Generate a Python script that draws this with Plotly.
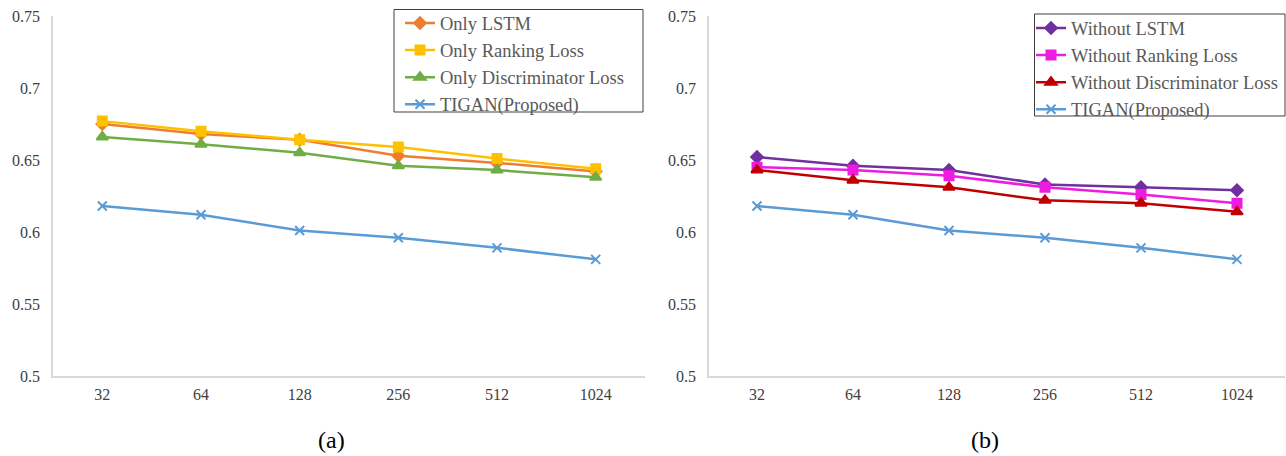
import plotly.graph_objects as go

categories = ["32", "64", "128", "256", "512", "1024"]

only_lstm = [0.675, 0.668, 0.664, 0.653, 0.648, 0.642]
only_ranking = [0.677, 0.670, 0.664, 0.659, 0.651, 0.644]
only_disc = [0.666, 0.661, 0.655, 0.646, 0.643, 0.638]
tigan = [0.618, 0.612, 0.601, 0.596, 0.589, 0.581]

without_lstm = [0.652, 0.646, 0.643, 0.633, 0.631, 0.629]
without_ranking = [0.645, 0.643, 0.639, 0.631, 0.626, 0.620]
without_disc = [0.643, 0.636, 0.631, 0.622, 0.620, 0.614]

y_ticks = [0.5, 0.55, 0.6, 0.65, 0.7, 0.75]
y_labels = ["0.5", "0.55", "0.6", "0.65", "0.7", "0.75"]

FONT = "Liberation Serif, Times New Roman, serif"
TXT = "#404040"

fig = go.Figure()

left = [
    ("Only LSTM", only_lstm, "#ED7D31", "diamond", 9),
    ("Only Ranking Loss", only_ranking, "#FFC000", "square", 9),
    ("Only Discriminator Loss", only_disc, "#70AD47", "triangle-up", 10),
    ("TIGAN(Proposed)", tigan, "#5B9BD5", "x-thin", 9),
]
right = [
    ("Without LSTM", without_lstm, "#7030A0", "diamond", 9),
    ("Without Ranking Loss", without_ranking, "#EE1BE0", "square", 9),
    ("Without Discriminator Loss", without_disc, "#C00000", "triangle-up", 10),
    ("TIGAN(Proposed)", tigan, "#5B9BD5", "x-thin", 9),
]

for name, vals, col, sym, sz in left:
    fig.add_trace(go.Scatter(
        x=categories, y=vals, name=name, mode="lines+markers",
        line=dict(color=col, width=2.5),
        marker=dict(symbol=sym, size=sz, color=col, line=dict(color=col, width=2)),
        xaxis="x", yaxis="y", legend="legend"))

for name, vals, col, sym, sz in right:
    fig.add_trace(go.Scatter(
        x=categories, y=vals, name=name, mode="lines+markers",
        line=dict(color=col, width=2.5),
        marker=dict(symbol=sym, size=sz, color=col, line=dict(color=col, width=2)),
        xaxis="x2", yaxis="y2", legend="legend2"))

W, H = 1286, 456
T, B = 16, 80
PH = H - T - B


def px_x(p):
    return p / W


def px_y(p):
    return (H - B - p) / PH


xa = dict(type="category", range=[-0.5, 5.5], showline=True, linecolor="#d9d9d9",
          linewidth=1.5, showgrid=False, zeroline=False, ticks="",
          tickfont=dict(family=FONT, size=16, color=TXT), ticklabelstandoff=3)
ya = dict(range=[0.5, 0.75], tickvals=y_ticks, ticktext=y_labels, showline=True,
          linecolor="#d9d9d9", linewidth=1.5, showgrid=False, zeroline=False, ticks="",
          tickfont=dict(family=FONT, size=16, color=TXT), ticklabelstandoff=8)

leg = dict(font=dict(family=FONT, size=18.5, color="#595959"), bgcolor="rgba(0,0,0,0)",
           borderwidth=0, xanchor="left", yanchor="top",
           itemwidth=30, tracegroupgap=0)

box = dict(type="rect", xref="paper", yref="paper", line=dict(color="#404040", width=1),
           fillcolor="rgba(0,0,0,0)", layer="above")

fig.update_layout(
    width=W, height=H,
    margin=dict(l=0, r=0, t=T, b=B, autoexpand=False),
    plot_bgcolor="white", paper_bgcolor="white",
    xaxis=dict(xa, domain=[53 / W, 645 / W], anchor="y"),
    yaxis=dict(ya, anchor="x"),
    xaxis2=dict(xa, domain=[709 / W, 1285 / W], anchor="y2"),
    yaxis2=dict(ya, anchor="x2"),
    legend=dict(leg, x=px_x(400), y=px_y(4.5)),
    legend2=dict(leg, x=px_x(1031), y=px_y(9.5)),
    shapes=[
        dict(box, x0=px_x(394), x1=px_x(643), y0=px_y(112), y1=px_y(9.5)),
        dict(box, x0=px_x(1034.5), x1=px_x(1285), y0=px_y(116), y1=px_y(14)),
    ],
    annotations=[
        dict(text="(a)", x=331 / W, y=px_y(440), xref="paper", yref="paper",
             xanchor="center", yanchor="middle",
             showarrow=False, font=dict(family=FONT, size=24, color="#000000")),
        dict(text="(b)", x=985 / W, y=px_y(440), xref="paper", yref="paper",
             xanchor="center", yanchor="middle",
             showarrow=False, font=dict(family=FONT, size=24, color="#000000")),
    ],
)

fig.write_html("out.html", post_script="document.body.style.margin='0';",
               config={"displayModeBar": False})
